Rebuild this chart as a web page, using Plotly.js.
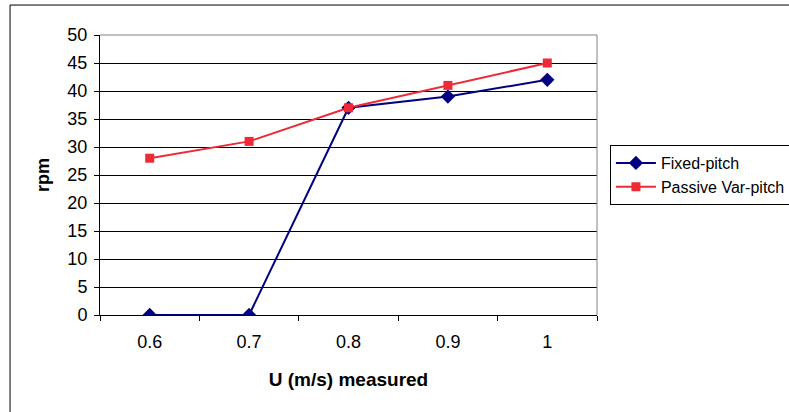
<!DOCTYPE html>
<html><head><meta charset="utf-8">
<script src="https://cdn.plot.ly/plotly-3.0.1.min.js"></script>
<style>html,body{margin:0;padding:0;background:#fff}</style>
</head><body><div id="chart" style="width:789px;height:412px"></div>
<script>
const categories = ['0.6', '0.7', '0.8', '0.9', '1'];
const fixedPitch = [0, 0, 37, 39, 42];
const passiveVarPitch = [28, 31, 37, 41, 45];
const yTicks = [0, 5, 10, 15, 20, 25, 30, 35, 40, 45, 50];

const font = 'Liberation Sans, Arial, sans-serif';
const traces = [
  {x: categories, y: fixedPitch, name: 'Fixed-pitch', type: 'scatter', mode: 'lines+markers',
   line: {color: '#000080', width: 2}, marker: {symbol: 'diamond', size: 11, color: '#000080'}},
  {x: categories, y: passiveVarPitch, name: 'Passive Var-pitch', type: 'scatter', mode: 'lines+markers',
   line: {color: '#ee2a36', width: 2}, marker: {symbol: 'square', size: 9, color: '#ee2a36'}}
];
const layout = {
  width: 789, height: 412,
  margin: {l: 100, r: 192, t: 35, b: 97, autoexpand: false},
  paper_bgcolor: '#fff', plot_bgcolor: '#fff',
  font: {family: font, size: 18, color: '#000'},
  showlegend: true,
  legend: {x: 1.026, y: 0.607, xanchor: 'left', yanchor: 'top', bordercolor: '#000', borderwidth: 1,
           font: {family: font, size: 16, color: '#000'}, itemwidth: 40, tracegroupgap: 0},
  xaxis: {type: 'category', tickson: 'boundaries', range: [-0.5, 4.5], ticks: 'outside', ticklen: 5, tickcolor: '#000',
          showline: true, linecolor: '#000', linewidth: 1, showgrid: false, zeroline: false,
          tickfont: {family: font, size: 18}, automargin: false, ticklabelstandoff: 10,
          title: {text: '<b>U (m/s) measured</b>', font: {family: font, size: 19}, standoff: 22}},
  yaxis: {range: [0, 50], tickvals: yTicks, ticks: 'outside', ticklen: 5, tickcolor: '#000',
          showline: true, linecolor: '#000', linewidth: 1, showgrid: true, gridcolor: '#000', gridwidth: 1,
          zeroline: false, tickfont: {family: font, size: 18}, automargin: false, ticklabelstandoff: 3,
          title: {text: '<b>rpm</b>', font: {family: font, size: 18}, standoff: 13}},
  shapes: [
    {type: 'rect', xref: 'paper', yref: 'paper', x0: -0.181, x1: 1.5, y0: -0.4, y1: 1.107,
     line: {color: '#000', width: 1}, layer: 'below'},
    {type: 'line', xref: 'paper', yref: 'paper', x0: 0, x1: 1, y0: 1, y1: 1, line: {color: '#808080', width: 1}, layer: 'above'},
    {type: 'line', xref: 'paper', yref: 'paper', x0: 1, x1: 1, y0: 0, y1: 1, line: {color: '#808080', width: 1}, layer: 'above'}
  ]
};
Plotly.newPlot('chart', traces, layout, {displayModeBar: false, staticPlot: true});
</script></body></html>
